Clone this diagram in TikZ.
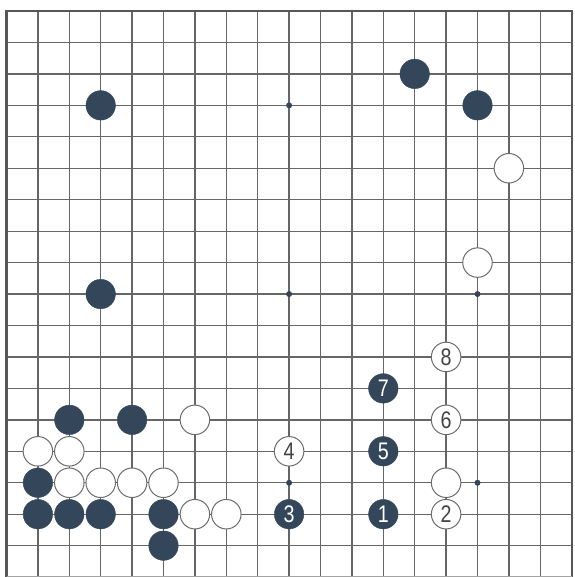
\documentclass[tikz,border=0pt]{standalone}
\usepackage{fontspec}
\setmainfont{Liberation Sans}
\newfontfamily\numfont[FakeStretch=0.82]{Liberation Sans}
\definecolor{stoneblack}{HTML}{34475A}
\definecolor{gridc}{HTML}{666666}
\definecolor{numc}{HTML}{444444}
\begin{document}
\begin{tikzpicture}[x=1pt,y=-1pt,
  bst/.style={circle,minimum size=29.5pt,inner sep=0pt,fill=stoneblack,draw=stoneblack,text=white,font=\numfont\fontsize{24}{24}\selectfont},
  wst/.style={circle,minimum size=29.5pt,inner sep=0pt,fill=white,draw=gray!85!black,line width=1pt,text=numc,font=\numfont\fontsize{24}{24}\selectfont},
  hoshi/.style={circle,fill=stoneblack,inner sep=0pt,minimum size=6pt}]
\useasboundingbox (0,0) rectangle (574,577);
\fill[white] (0,0) rectangle (574,577);
% grid
\foreach \i in {1,...,17} {
  \draw[gridc,line width=1.3pt] ({6.5+31.4*\i},11) -- ({6.5+31.4*\i},577);
}
\foreach \j in {1,...,17} {
  \draw[gridc,line width=1.3pt] (6.5,{11+31.45*\j}) -- (571.7,{11+31.45*\j});
}
\draw[gridc!85!black,line width=2.2pt] (6.5,577) -- (6.5,11) -- (571.7,11) -- (571.7,577);
\draw[gridc!60,line width=1pt] (6.5,576) -- (571.7,576);
% hoshi
\foreach \i/\j [count=\k] in {9/3,9/9,15/9,9/15,15/15} {
  \node[hoshi] (h\k) at ({6.5+31.4*\i},{11+31.45*\j}) {};
}
% black stones
\foreach \i/\j [count=\k] in {13/2,3/3,15/3,3/9,2/13,4/13,1/15,1/16,2/16,3/16,5/16,5/17} {
  \node[bst] (b\k) at ({6.5+31.4*\i},{11+31.45*\j}) {};
}
% white stones
\foreach \i/\j [count=\k] in {16/5,15/8,6/13,1/14,2/14,2/15,3/15,4/15,5/15,14/15,6/16,7/16} {
  \node[wst] (w\k) at ({6.5+31.4*\i},{11+31.45*\j}) {};
}
% numbered moves
\node[bst] (m1) at ({6.5+31.4*12},{11+31.45*16}) {1};
\node[wst] (m2) at ({6.5+31.4*14},{11+31.45*16}) {2};
\node[bst] (m3) at ({6.5+31.4*9},{11+31.45*16}) {3};
\node[wst] (m4) at ({6.5+31.4*9},{11+31.45*14}) {4};
\node[bst] (m5) at ({6.5+31.4*12},{11+31.45*14}) {5};
\node[wst] (m6) at ({6.5+31.4*14},{11+31.45*13}) {6};
\node[bst] (m7) at ({6.5+31.4*12},{11+31.45*12}) {7};
\node[wst] (m8) at ({6.5+31.4*14},{11+31.45*11}) {8};
\end{tikzpicture}
\end{document}
